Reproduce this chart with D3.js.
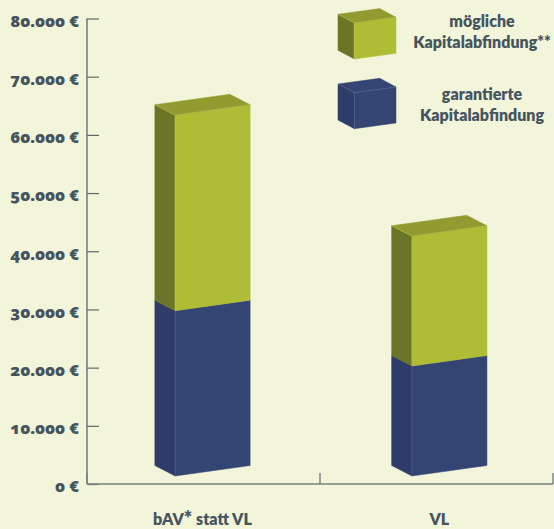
<!DOCTYPE html>
<html lang="de">
<head>
<meta charset="utf-8">
<script src="https://cdn.jsdelivr.net/npm/d3@7/dist/d3.min.js"></script>
<style>
  html, body { margin: 0; padding: 0; background: #f2f5d9; }
  svg { display: block; }
  text { font-family: "Lato", "Open Sans", sans-serif; font-weight: 800; fill: #46545e; }
  .num { font-family: "Open Sans", sans-serif; font-weight: 800; font-feature-settings: "onum" 1; font-size: 16.5px; }
</style>
</head>
<body>
<svg id="chart" width="554" height="529"></svg>
<script>
const categories = ["bAV* statt VL", "VL"];
const guaranteed = [28400, 18900];
const possible = [33600, 22300];
const yTicks = [0, 10000, 20000, 30000, 40000, 50000, 60000, 70000, 80000];
const legendLabels = [["mögliche", "Kapitalabfindung**"], ["garantierte", "Kapitalabfindung"]];

const limePalette = { front: "#aebd35", side: "#6b7527", top: "#929b30", edge: "#c3cf66" };
const navyPalette = { front: "#344573", side: "#2f3b68", top: "#344573", edge: "#6c7aa0" };

const svg = d3.select("#chart");
const y = d3.scaleLinear().domain([0, 80000]).range([484, 18.5]);
const x = d3.scalePoint().domain(categories).range([202.5, 439.3]);
const sections = d3.scaleLinear().domain([0, categories.length]).range([87, 553]);

const de = d3.formatLocale({ decimal: ",", thousands: ".", grouping: [3], currency: ["", " €"] });
const euro = v => de.format(",")(v) + " €";

// The front face floats slightly above the baseline because of the oblique projection.
const FLOOR_LIFT = 8;
const BAR = { frontW: 75, sideW: 20.3, sideRise: 10.5, frontRise: 10.5 };

function poly(points, fill, stroke) {
  svg.append("polygon")
    .attr("points", points.map(p => p.join(",")).join(" "))
    .attr("fill", fill)
    .attr("stroke", stroke || fill)
    .attr("stroke-width", 0.5);
}

function edge(x1, y1, x2, y2, color) {
  svg.append("line").attr("x1", x1).attr("y1", y1).attr("x2", x2).attr("y2", y2)
    .attr("stroke", color).attr("stroke-width", 0.6).attr("stroke-opacity", 0.6);
}

// Oblique box: (fx, yTop) is the top-left corner of the front face, yBottom its lower-left corner.
function box(fx, yTop, yBottom, g, pal, withTop) {
  const backY = d => d - g.sideRise;
  poly([[fx - g.sideW, backY(yTop)], [fx, yTop], [fx, yBottom], [fx - g.sideW, backY(yBottom)]], pal.side);
  poly([[fx, yTop], [fx + g.frontW, yTop - g.frontRise], [fx + g.frontW, yBottom - g.frontRise], [fx, yBottom]], pal.front);
  if (withTop) {
    poly([[fx - g.sideW, backY(yTop)],
          [fx + g.frontW - g.sideW, backY(yTop) - g.frontRise],
          [fx + g.frontW, yTop - g.frontRise],
          [fx, yTop]], pal.top);
    edge(fx - g.sideW, backY(yTop), fx, yTop, pal.edge);
    edge(fx, yTop, fx + g.frontW, yTop - g.frontRise, pal.edge);
  }
  edge(fx, yTop, fx, yBottom, pal.edge);
}

// Value axis
const yAxis = svg.append("g").attr("transform", `translate(${sections(0)},0)`)
  .call(d3.axisLeft(y).tickValues(yTicks).tickFormat(euro).tickSize(-12).tickPadding(8));
yAxis.select(".domain").attr("stroke", "#76807f").attr("stroke-width", 1.6).attr("d", `M0,${y(80000)}V${y(0)}`);
yAxis.selectAll(".tick line").attr("stroke", "#5d6a6c").attr("stroke-width", 1.2);
yAxis.selectAll(".tick text").attr("class", "num").attr("dy", "0.48em").attr("text-anchor", "end").attr("fill", null);

// Category axis with section separators
const baseline = y(0);
svg.append("line").attr("x1", sections(0)).attr("x2", sections(2)).attr("y1", baseline).attr("y2", baseline)
  .attr("stroke", "#76807f").attr("stroke-width", 1.4);
svg.selectAll(".sep").data([0, 1, 2]).join("line").attr("class", "sep")
  .attr("x1", d => sections(d)).attr("x2", d => sections(d))
  .attr("y1", baseline).attr("y2", baseline - 11)
  .attr("stroke", "#76807f").attr("stroke-width", 1.4);

// Stacked bars
categories.forEach((c, i) => {
  const fx = x(c) + (BAR.sideW + BAR.frontW) / 2 - BAR.frontW;
  const y0 = y(0) - FLOOR_LIFT;
  const y1 = y(guaranteed[i]) - FLOOR_LIFT;
  const y2 = y(guaranteed[i] + possible[i]) - FLOOR_LIFT;
  box(fx, y1, y0, BAR, navyPalette, false);
  box(fx, y2, y1, BAR, limePalette, true);
});

// Category labels
const catLabels = svg.selectAll(".cat").data(categories).join("text").attr("class", "cat")
  .attr("x", d => x(d)).attr("y", 525).attr("text-anchor", "middle").attr("font-size", 16);
catLabels.each(function (d) {
  const t = d3.select(this);
  const parts = d.split("*");
  t.append("tspan").text(parts[0]);
  if (parts.length > 1) {
    t.append("tspan").text("*").attr("font-size", 20).attr("dy", 1);
    t.append("tspan").text(parts[1]).attr("dy", -1);
  }
});

// Legend
const legendBox = { frontW: 41.7, sideW: 16.3, sideRise: 8.7, frontRise: 5.7 };
[
  { top: 23, bottom: 59, pal: limePalette },
  { top: 92.7, bottom: 128.7, pal: navyPalette }
].forEach(k => box(354.3, k.top, k.bottom, legendBox, k.pal, true));

legendLabels.forEach((lines, i) => {
  lines.forEach((line, j) => {
    svg.append("text").attr("x", 482).attr("y", (i ? 100 : 27) + j * 21)
      .attr("text-anchor", "middle").attr("font-size", 16).text(line);
  });
});
</script>
</body>
</html>
